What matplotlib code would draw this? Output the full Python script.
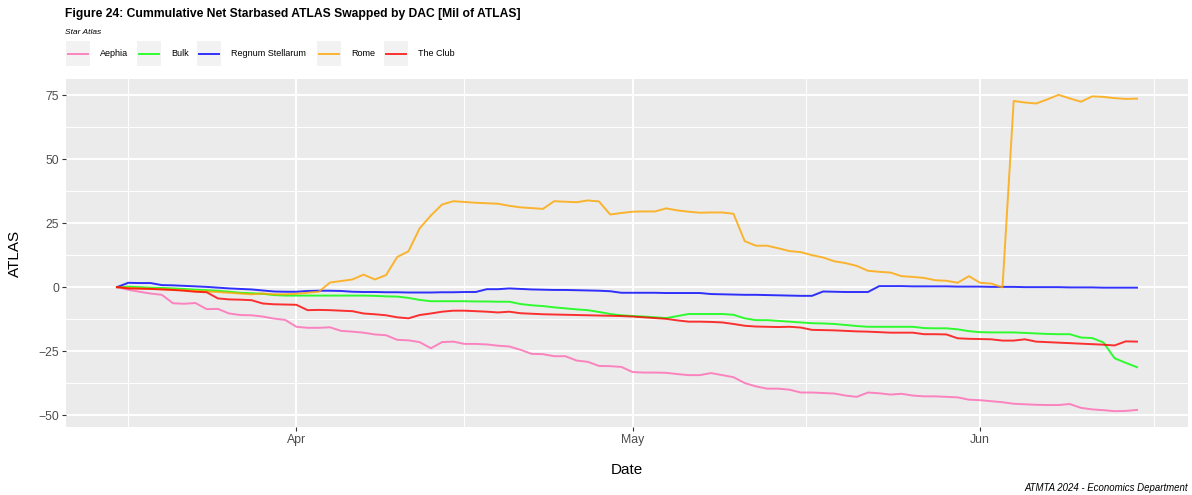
import numpy as np
import pandas as pd
import matplotlib
matplotlib.use('Agg')
import matplotlib.pyplot as plt
import matplotlib.dates as mdates
from matplotlib.patches import Rectangle
from matplotlib.lines import Line2D

plt.rcParams['font.family'] = ['Liberation Sans', 'DejaVu Sans']

dates = pd.date_range('2024-03-16', '2024-06-15', freq='D')

aephia = [0, -1.0, -1.8, -2.5, -3.0, -6.3, -6.5, -6.2, -8.6, -8.5,
          -10.3, -10.9, -11.0, -11.5, -12.3, -12.8, -15.5, -15.9, -15.9, -15.7,
          -17.1, -17.4, -17.8, -18.5, -18.8, -20.6, -20.8, -21.5, -23.9, -21.5,
          -21.3, -22.2, -22.2, -22.4, -22.9, -23.2, -24.5, -26.1, -26.2, -27.0,
          -27.0, -28.7, -29.2, -30.8, -30.9, -31.2, -33.2, -33.4, -33.4, -33.5,
          -34.0, -34.4, -34.4, -33.6, -34.4, -35.2, -37.5, -38.8, -39.7, -39.7,
          -40.1, -41.2, -41.2, -41.4, -41.6, -42.4, -42.9, -41.2, -41.5, -42.0,
          -41.7, -42.4, -42.7, -42.7, -42.9, -43.1, -44.0, -44.2, -44.6, -45.0,
          -45.6, -45.8, -46.0, -46.1, -46.1, -45.7, -47.2, -47.8, -48.1, -48.5,
          -48.4, -48.0]

bulk = [0, 0.2, 0.0, -0.2, -0.3, -0.5, -0.7, -1.0, -1.2, -1.4,
        -1.8, -2.2, -2.4, -2.6, -3.1, -3.3, -3.3, -3.3, -3.3, -3.3,
        -3.3, -3.3, -3.3, -3.4, -3.6, -3.7, -4.2, -5.0, -5.5, -5.5,
        -5.5, -5.5, -5.6, -5.6, -5.7, -5.7, -6.6, -7.1, -7.4, -7.9,
        -8.3, -8.7, -9.0, -9.7, -10.5, -11.0, -11.3, -11.5, -11.8, -12.1,
        -11.3, -10.5, -10.5, -10.5, -10.5, -10.8, -12.2, -12.9, -12.9, -13.2,
        -13.5, -13.8, -14.1, -14.2, -14.4, -14.8, -15.2, -15.5, -15.5, -15.5,
        -15.5, -15.5, -16.0, -16.1, -16.1, -16.5, -17.2, -17.6, -17.7, -17.7,
        -17.7, -17.9, -18.1, -18.3, -18.4, -18.4, -19.7, -19.9, -21.6, -27.8,
        -29.6, -31.3]

regnum = [0, 1.7, 1.6, 1.6, 0.8, 0.7, 0.5, 0.3, 0.1, -0.2,
          -0.5, -0.7, -0.9, -1.3, -1.7, -1.8, -1.8, -1.5, -1.4, -1.4,
          -1.5, -1.8, -1.9, -1.9, -2.0, -2.0, -2.1, -2.1, -2.1, -2.0,
          -2.0, -1.9, -1.9, -0.8, -0.8, -0.5, -0.7, -0.9, -1.0, -1.1,
          -1.1, -1.2, -1.3, -1.4, -1.6, -2.2, -2.2, -2.2, -2.2, -2.3,
          -2.3, -2.3, -2.3, -2.7, -2.8, -2.9, -3.0, -3.0, -3.1, -3.2,
          -3.3, -3.4, -3.4, -1.7, -1.8, -1.9, -1.9, -1.9, 0.4, 0.4,
          0.4, 0.3, 0.3, 0.3, 0.3, 0.2, 0.2, 0.2, 0.1, 0.1,
          0.1, 0.0, 0.0, 0.0, 0.0, -0.1, -0.1, -0.1, -0.2, -0.2,
          -0.2, -0.2]

rome = [0, -0.3, -0.5, -0.6, -0.8, -1.0, -1.2, -1.5, -1.7, -1.9,
        -2.2, -2.5, -2.8, -2.5, -2.8, -2.8, -2.6, -2.2, -1.8, 1.8,
        2.4, 3.0, 4.9, 3.0, 4.7, 11.8, 14.0, 23.0, 28.0, 32.3,
        33.6, 33.3, 33.0, 32.8, 32.6, 31.8, 31.2, 30.9, 30.6, 33.6,
        33.4, 33.2, 33.9, 33.5, 28.4, 29.0, 29.5, 29.6, 29.6, 30.8,
        30.0, 29.5, 29.1, 29.2, 29.2, 28.7, 18.0, 16.2, 16.2, 15.2,
        14.1, 13.7, 12.5, 11.6, 10.1, 9.4, 8.3, 6.4, 6.0, 5.7,
        4.3, 4.0, 3.6, 2.7, 2.5, 1.7, 4.3, 1.7, 1.4, -0.1,
        72.8, 72.2, 71.8, 73.4, 75.2, 73.8, 72.5, 74.6, 74.4, 73.9,
        73.6, 73.7]

the_club = [0, -0.5, -0.6, -0.7, -0.9, -1.1, -1.4, -1.8, -2.0, -4.4,
            -4.8, -4.9, -5.1, -6.4, -6.7, -6.8, -6.9, -9.0, -8.9, -9.0,
            -9.2, -9.4, -10.3, -10.6, -11.0, -11.8, -12.2, -10.9, -10.3, -9.6,
            -9.2, -9.2, -9.4, -9.6, -9.9, -9.6, -10.2, -10.4, -10.6, -10.7,
            -10.8, -10.9, -11.0, -11.1, -11.2, -11.3, -11.5, -11.8, -12.1, -12.4,
            -13.0, -13.5, -13.5, -13.6, -13.8, -14.4, -15.1, -15.4, -15.5, -15.6,
            -15.5, -15.8, -16.7, -16.8, -16.9, -17.1, -17.3, -17.4, -17.6, -17.8,
            -17.8, -17.8, -18.4, -18.4, -18.5, -20.0, -20.2, -20.3, -20.4, -20.9,
            -20.9, -20.4, -21.3, -21.5, -21.7, -21.9, -22.1, -22.3, -22.5, -22.8,
            -21.2, -21.3]

names = ['Aephia', 'Bulk', 'Regnum Stellarum', 'Rome', 'The Club']
series = [aephia, bulk, regnum, rome, the_club]
colors = ['#FF69B4', '#00FF00', '#0000FF', '#FFA500', '#FF0000']

W, H = 1192, 495
fig = plt.figure(figsize=(W / 100, H / 100), dpi=100)


def fx(x):
    return x / W


def fy(y):
    return 1 - y / H


ax = fig.add_axes([fx(66), fy(427), fx(1188) - fx(66), fy(79) - fy(427)])
ax.set_facecolor('#EBEBEB')
for s in ax.spines.values():
    s.set_visible(False)

for vals, c in zip(series, colors):
    ax.plot(dates, vals, color=c, alpha=0.8, lw=1.4, zorder=3)

# ggplot-like expansion
x0 = mdates.date2num(dates[0])
x1 = mdates.date2num(dates[-1])
dx = (x1 - x0) * 0.05
ax.set_xlim(x0 - dx, x1 + dx)
allv = np.concatenate([np.array(v) for v in series])
dy = (allv.max() - allv.min()) * 0.05
ax.set_ylim(allv.min() - dy, allv.max() + dy)

major_x = pd.to_datetime(['2024-04-01', '2024-05-01', '2024-06-01'])
minor_x = pd.to_datetime(['2024-03-17 00:00', '2024-04-16 00:00',
                          '2024-05-16 12:00', '2024-06-16 12:00'])
ax.set_xticks(major_x)
ax.set_xticklabels(['Apr', 'May', 'Jun'])
ax.set_xticks(minor_x, minor=True)
ax.set_yticks([-50, -25, 0, 25, 50, 75])
ax.set_yticks([-37.5, -12.5, 12.5, 37.5, 62.5], minor=True)

ax.grid(which='major', color='white', lw=1.4, zorder=1)
ax.grid(which='minor', color='white', lw=0.7, zorder=1)
ax.set_axisbelow(True)
ax.tick_params(which='major', length=3, width=0.8, color='#333333',
               labelsize=8.8, labelcolor='#4D4D4D', pad=2)
ax.tick_params(which='minor', length=0)

ax.set_xlabel('Date', fontsize=11, labelpad=12)
ax.set_ylabel('ATLAS', fontsize=11, labelpad=12)

fig.text(fx(65), fy(14), 'Figure 24: Cummulative Net Starbased ATLAS Swapped by DAC [Mil of ATLAS]',
         fontsize=8.7, fontweight='bold', ha='left', va='center')
fig.text(fx(65), fy(33), 'Star Atlas', fontsize=6, style='italic', ha='left', va='center')

key_x = [66, 137, 197, 317, 384]
for kx, name, c in zip(key_x, names, colors):
    fig.add_artist(Rectangle((fx(kx), fy(66)), fx(24), 25 / H,
                             facecolor='#F2F2F2', edgecolor='none'))
    fig.add_artist(Line2D([fx(kx + 2), fx(kx + 22)], [fy(53.5), fy(53.5)],
                          color=c, alpha=0.8, lw=1.4))
    fig.text(fx(kx + 34), fy(53.5), name, fontsize=6.5, ha='left', va='center')

fig.text(fx(1188), fy(488), 'ATMTA 2024 - Economics Department', fontsize=6.9,
         style='italic', ha='right', va='center')

fig.savefig('out.png', dpi=100)
